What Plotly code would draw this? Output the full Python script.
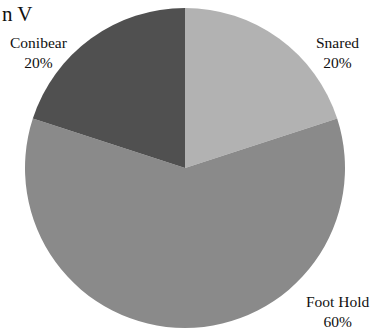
import plotly.graph_objects as go

# Trap types and their share of captures
categories = ["Snared", "Foot Hold", "Conibear"]
shares = [20, 60, 20]
slice_colors = ["#b2b2b2", "#8a8a8a", "#505050"]

# Label anchor points (paper coordinates) for the outside labels
label_x = [0.894, 0.894, 0.103]
label_y = [0.840, 0.060, 0.840]

W, H = 378, 331
serif = "Palatino Linotype, Book Antiqua, Liberation Serif, DejaVu Serif, serif"

fig = go.Figure(
    go.Pie(
        labels=categories,
        values=shares,
        sort=False,
        direction="clockwise",
        rotation=0,
        marker=dict(colors=slice_colors, line=dict(width=0)),
        textinfo="none",
        hoverinfo="label+percent",
        showlegend=False,
        domain=dict(x=[25 / W, 345 / W], y=[1 - 328 / H, 1 - 8 / H]),
    )
)

total = sum(shares)
annotations = []
for name, val, x, y in zip(categories, shares, label_x, label_y):
    annotations.append(
        dict(
            text=f"{name}<br>{round(100 * val / total)}%",
            x=x, y=y, xref="paper", yref="paper",
            xanchor="center", yanchor="middle",
            showarrow=False, align="center",
            font=dict(family=serif, size=15.5, color="#111111"),
        )
    )

annotations.append(
    dict(
        text="n V", x=0, y=1.0, xref="paper", yref="paper",
        xanchor="left", yanchor="top", showarrow=False,
        font=dict(family=serif, size=21, color="#111111"),
    )
)

fig.update_layout(
    width=W, height=H,
    margin=dict(l=0, r=0, t=0, b=0),
    paper_bgcolor="white", plot_bgcolor="white",
    annotations=annotations,
)

fig.write_html("out.html")
